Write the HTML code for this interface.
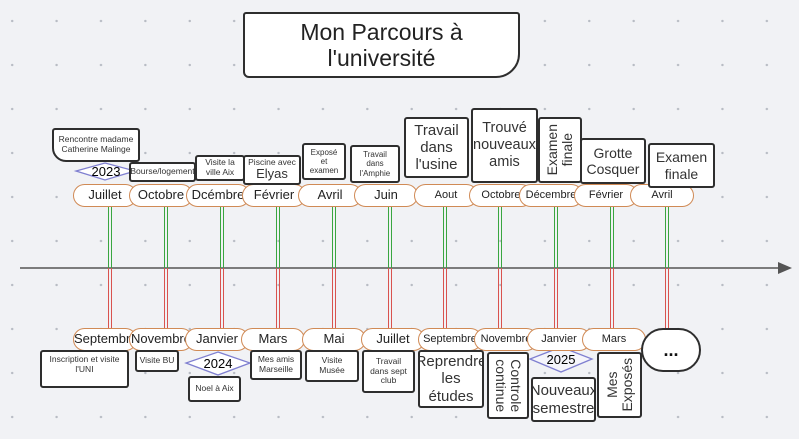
<!DOCTYPE html>
<html><head><meta charset="utf-8"><style>
body{margin:0;width:799px;height:439px;overflow:hidden;background:#f1f2f5;font-family:"Liberation Sans",sans-serif;position:relative;
background-image:radial-gradient(circle,#b8bcc4 1px,transparent 1.4px);background-size:44.4px 44px;background-position:-10px -1px;}
.a{position:absolute;box-sizing:border-box}
.p{position:absolute;box-sizing:border-box;height:23px;width:64px;border:1.5px solid #d08a55;border-radius:12px;background:#fff;text-align:center;font-size:13px;line-height:20px;color:#222;overflow:hidden;white-space:nowrap}
.n{position:absolute;box-sizing:border-box;background:#fff;border:2px solid #2e2e2e;border-radius:3px;text-align:center;color:#333;overflow:hidden;display:flex;align-items:center;justify-content:center;line-height:1.15}
.g{position:absolute;width:4px;border-left:1.5px solid #3aa640;border-right:1.5px solid #3aa640;box-sizing:border-box}
.r{position:absolute;width:4px;border-left:1.5px solid #d9534f;border-right:1.5px solid #d9534f;box-sizing:border-box}
.rot{transform:rotate(90deg);white-space:nowrap}
</style></head><body>
<div class="n" style="left:243px;top:12px;width:277px;height:66px;font-size:23px;color:#222;border-radius:3px 3px 24px 6px">Mon Parcours à<br>l'université</div>

<svg class="a" style="left:0;top:0" width="799" height="439">
<line x1="20" y1="268" x2="780" y2="268" stroke="#555" stroke-width="1.5"/>
<polygon points="792,268 778,262 778,274" fill="#555"/>
<polygon points="105,163 135,171 105,180 76,171" fill="#fff" stroke="#7f7fd0" stroke-width="1.3"/>
<polygon points="218,352 250,363 218,375 186,363" fill="#fff" stroke="#7f7fd0" stroke-width="1.3"/>
<polygon points="561,347 592,359 561,372 530,359" fill="#f5f5fb" stroke="#7f7fd0" stroke-width="1.3"/>
</svg>
<div class="a" style="left:76px;top:163px;width:60px;height:17px;font-size:13px;text-align:center;line-height:17px">2023</div>
<div class="a" style="left:186px;top:352px;width:64px;height:23px;font-size:13px;text-align:center;line-height:23px">2024</div>
<div class="a" style="left:530px;top:347px;width:62px;height:25px;font-size:13px;text-align:center;line-height:25px">2025</div>

<div class="g" style="left:108px;top:207px;height:61px"></div><div class="r" style="left:108px;top:268px;height:60px"></div>
<div class="g" style="left:164px;top:207px;height:61px"></div><div class="r" style="left:164px;top:268px;height:60px"></div>
<div class="g" style="left:220px;top:207px;height:61px"></div><div class="r" style="left:220px;top:268px;height:60px"></div>
<div class="g" style="left:276px;top:207px;height:61px"></div><div class="r" style="left:276px;top:268px;height:60px"></div>
<div class="g" style="left:332px;top:207px;height:61px"></div><div class="r" style="left:332px;top:268px;height:60px"></div>
<div class="g" style="left:388px;top:207px;height:61px"></div><div class="r" style="left:388px;top:268px;height:60px"></div>
<div class="g" style="left:443px;top:207px;height:61px"></div><div class="r" style="left:443px;top:268px;height:60px"></div>
<div class="g" style="left:498px;top:207px;height:61px"></div><div class="r" style="left:498px;top:268px;height:60px"></div>
<div class="g" style="left:554px;top:207px;height:61px"></div><div class="r" style="left:554px;top:268px;height:60px"></div>
<div class="g" style="left:610px;top:207px;height:61px"></div><div class="r" style="left:610px;top:268px;height:60px"></div>
<div class="g" style="left:665px;top:207px;height:61px"></div><div class="r" style="left:665px;top:268px;height:60px"></div>

<div class="p" style="left:73px;top:184px">Juillet</div>
<div class="p" style="left:129px;top:184px">Octobre</div>
<div class="p" style="left:186px;top:184px">Dcémbre</div>
<div class="p" style="left:242px;top:184px">Février</div>
<div class="p" style="left:298px;top:184px">Avril</div>
<div class="p" style="left:354px;top:184px">Juin</div>
<div class="p" style="left:414px;top:184px;font-size:11px">Aout</div>
<div class="p" style="left:469px;top:184px;font-size:11px">Octobre</div>
<div class="p" style="left:519px;top:184px;font-size:11px">Décembre</div>
<div class="p" style="left:574px;top:184px;font-size:11px">Février</div>
<div class="p" style="left:630px;top:184px;font-size:11px">Avril</div>

<div class="p" style="left:73px;top:328px">Septembre</div>
<div class="p" style="left:129px;top:328px">Novembre</div>
<div class="p" style="left:185px;top:328px">Janvier</div>
<div class="p" style="left:241px;top:328px">Mars</div>
<div class="p" style="left:302px;top:328px">Mai</div>
<div class="p" style="left:361px;top:328px">Juillet</div>
<div class="p" style="left:418px;top:328px;font-size:11px">Septembre</div>
<div class="p" style="left:474px;top:328px;font-size:11px">Novembre</div>
<div class="p" style="left:527px;top:328px;font-size:11px">Janvier</div>
<div class="p" style="left:582px;top:328px;font-size:11px">Mars</div>
<div class="n" style="left:641px;top:328px;width:60px;height:44px;border-radius:22px;font-size:18px;font-weight:bold;color:#111">...</div>

<div class="n" style="left:52px;top:128px;width:88px;height:34px;font-size:8.5px;border-radius:3px 3px 3px 14px">Rencontre madame<br>Catherine Malinge</div>
<div class="n" style="left:129px;top:162px;width:67px;height:20px;font-size:8.5px">Bourse/logement</div>
<div class="n" style="left:195px;top:155px;width:50px;height:26px;font-size:8.5px">Visite la<br>ville Aix</div>
<div class="n" style="left:243px;top:155px;width:58px;height:30px;font-size:8.5px;flex-direction:column">Piscine avec<span style="font-size:13px">Elyas</span></div>
<div class="n" style="left:302px;top:143px;width:44px;height:37px;font-size:8px">Exposé<br>et<br>examen</div>
<div class="n" style="left:350px;top:145px;width:50px;height:38px;font-size:8px">Travail<br>dans<br>l'Amphie</div>
<div class="n" style="left:404px;top:117px;width:65px;height:61px;font-size:15px">Travail<br>dans<br>l'usine</div>
<div class="n" style="left:471px;top:108px;width:67px;height:75px;font-size:14.5px">Trouvé<br>nouveaux<br>amis</div>
<div class="n" style="left:538px;top:117px;width:44px;height:66px;font-size:14px"><div class="rot" style="transform:rotate(-90deg);line-height:1.05">Examen<br>finale</div></div>
<div class="n" style="left:580px;top:138px;width:66px;height:46px;font-size:14px">Grotte<br>Cosquer</div>
<div class="n" style="left:648px;top:143px;width:67px;height:45px;font-size:14px">Examen<br>finale</div>

<div class="n" style="left:40px;top:350px;width:89px;height:38px;font-size:8.5px;align-items:flex-start;padding-top:3px">Inscription et visite<br>l'UNI</div>
<div class="n" style="left:135px;top:350px;width:44px;height:22px;font-size:8.5px">Visite BU</div>
<div class="n" style="left:188px;top:376px;width:53px;height:26px;font-size:8.5px">Noel à Aix</div>
<div class="n" style="left:250px;top:350px;width:52px;height:30px;font-size:8.5px">Mes amis<br>Marseille</div>
<div class="n" style="left:305px;top:350px;width:54px;height:32px;font-size:8.5px">Visite<br>Musée</div>
<div class="n" style="left:362px;top:350px;width:53px;height:43px;font-size:8.5px">Travail<br>dans sept<br>club</div>
<div class="n" style="left:418px;top:350px;width:66px;height:58px;font-size:15px">Reprendre<br>les<br>études</div>
<div class="n" style="left:487px;top:352px;width:42px;height:67px;font-size:14px"><div class="rot" style="line-height:1.05">Controle<br>continue</div></div>
<div class="n" style="left:531px;top:377px;width:65px;height:45px;font-size:15px">Nouveaux<br>semestre</div>
<div class="n" style="left:597px;top:352px;width:45px;height:66px;font-size:14px"><div class="rot" style="transform:rotate(-90deg);line-height:1.05">Mes<br>Exposés</div></div>
</body></html>
